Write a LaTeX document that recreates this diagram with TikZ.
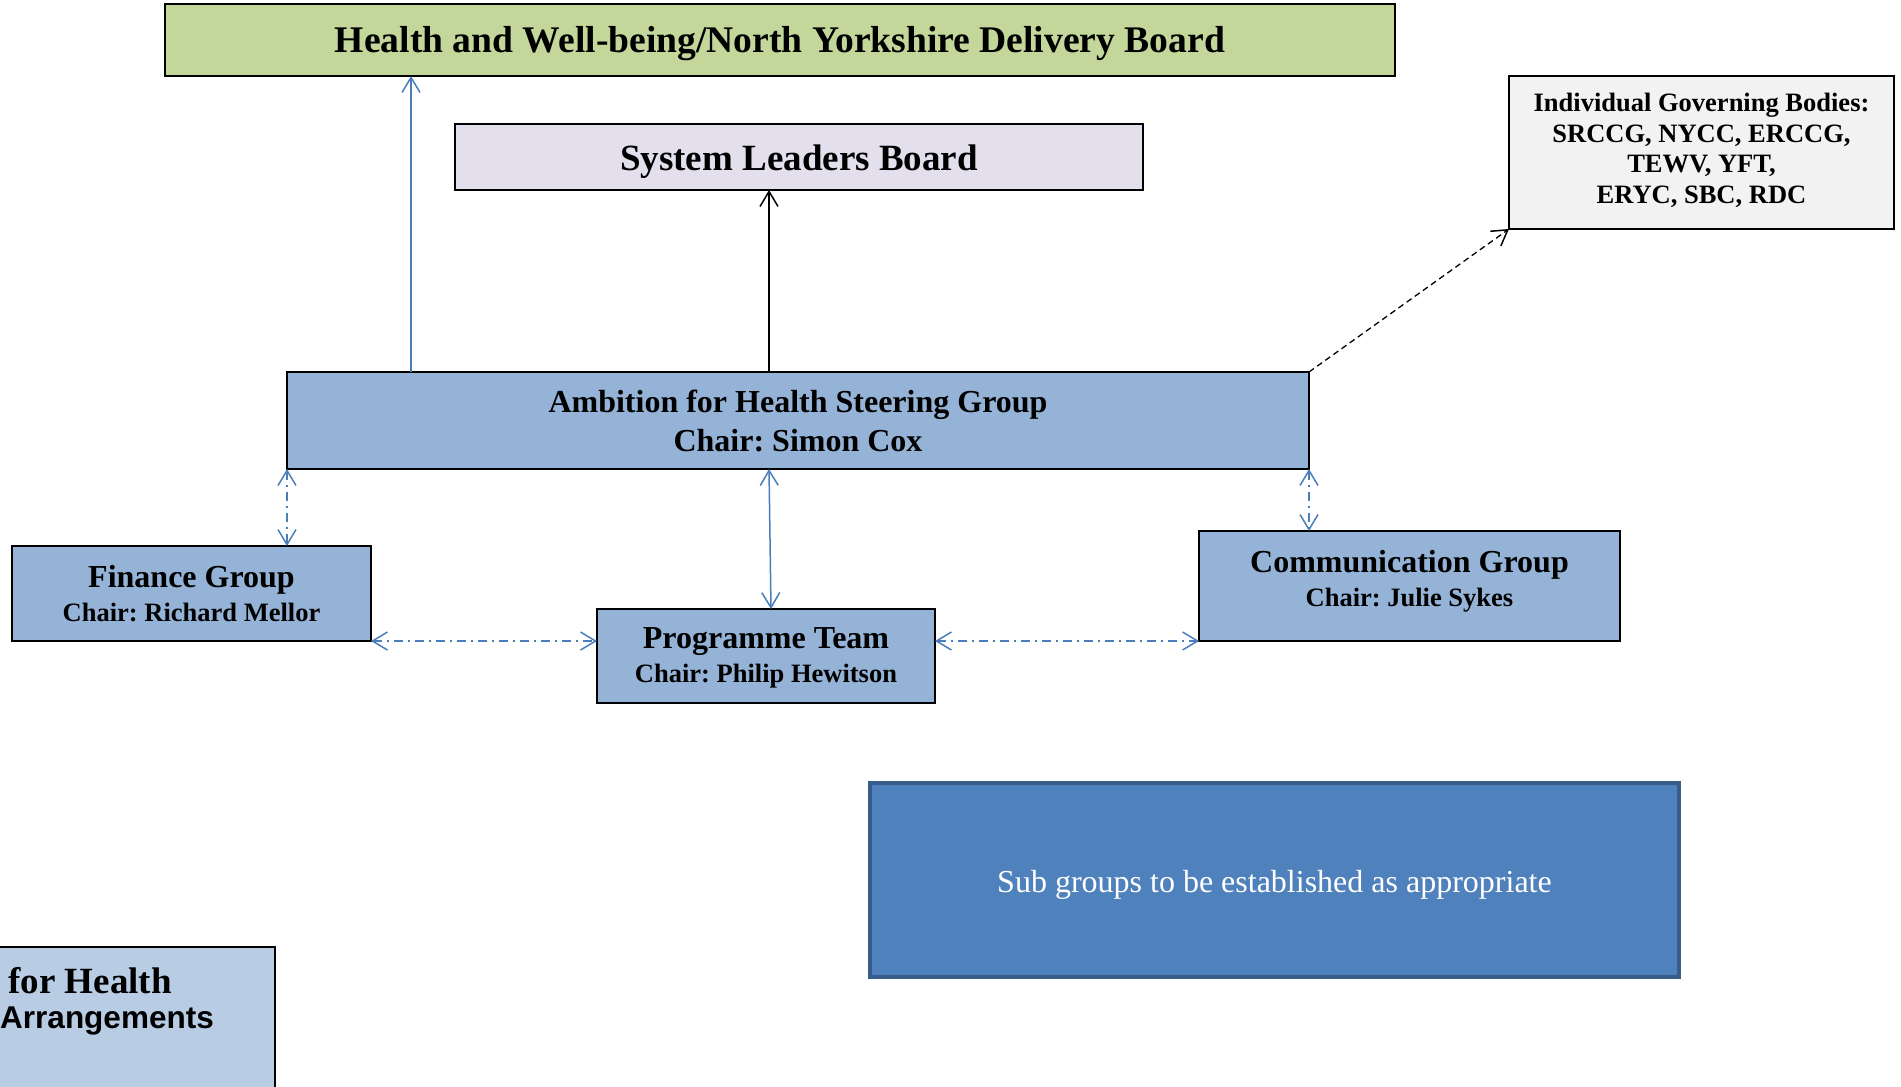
\documentclass[tikz,border=0pt]{standalone}
\usepackage{fontspec}
\setmainfont{Liberation Serif}
\newfontfamily\arialfont{Liberation Sans}
\usetikzlibrary{arrows.meta}
\frenchspacing

\definecolor{boardgreen}{HTML}{C4D79B}
\definecolor{leaderlilac}{HTML}{E4DFEC}
\definecolor{bodygrey}{HTML}{F2F2F2}
\definecolor{groupblue}{HTML}{95B3D7}
\definecolor{subblue}{HTML}{4F81BD}
\definecolor{subedge}{HTML}{385D8A}
\definecolor{keyblue}{HTML}{B8CCE4}
\definecolor{linkblue}{HTML}{4A7EBB}

\tikzset{
  box/.style={draw=black, line width=2pt, inner sep=0pt, outer sep=0pt, align=center},
  tiphead/.style={-{Straight Barb[length=15pt,width=18pt,line width=1.5pt]}},
  twohead/.style={{Straight Barb[length=15pt,width=18pt,line width=1.5pt]}-{Straight Barb[length=15pt,width=18pt,line width=1.5pt]}},
  bluelink/.style={draw=linkblue, line width=1.5pt},
  dashdot/.style={dash pattern=on 9pt off 5pt on 2pt off 5pt},
  big/.style={font=\bfseries\fontsize{37.6}{44}\selectfont},
  small/.style={font=\bfseries\fontsize{26.5}{30.5}\selectfont}
}

\begin{document}
\begin{tikzpicture}[x=1pt,y=-1pt]
\useasboundingbox (0,0) rectangle (1901,1087);
\clip (0,0) rectangle (1901,1087);

% boards at the top
\node[box, fill=boardgreen, minimum width=1230pt, minimum height=72pt] (green) at (780,40) {};
\node[big] (greentext) at (780,43.5) {Health and Well-being/North Yorkshire Delivery Board};
\node[box, fill=leaderlilac, minimum width=688pt, minimum height=66pt] (slb) at (799,157) {};
\node[big, font=\bfseries\fontsize{37}{44}\selectfont] (slbtext) at (799,162) {System Leaders Board};
\node[box, fill=bodygrey, minimum width=385pt, minimum height=153pt] (igb) at (1701.5,152.5) {};
\node[small, align=center] (igbtext) at (1701.5,150.5)
  {Individual Governing Bodies:\\SRCCG, NYCC, ERCCG,\\TEWV, YFT,\\ERYC, SBC, RDC};

% steering group and its groups
\node[box, fill=groupblue, minimum width=1022pt, minimum height=97pt] (amb) at (798,420.5) {};
\node[align=center, font=\bfseries\fontsize{32}{39}\selectfont] (ambtext) at (798,420.5)
  {Ambition for Health Steering Group\\Chair: Simon Cox};

\node[box, fill=groupblue, minimum width=359pt, minimum height=95pt] (fin) at (191.5,593.5) {};
\node[align=center, font=\bfseries\fontsize{26.5}{34}\selectfont] (fintext) at (191.5,593.5)
  {{\fontsize{32}{34}\selectfont Finance Group}\\Chair: Richard Mellor};

\node[box, fill=groupblue, minimum width=338pt, minimum height=94pt] (prog) at (766,656) {};
\node[align=center, font=\bfseries\fontsize{26.5}{34.5}\selectfont] (progtext) at (766,658)
  {{\fontsize{32}{34}\selectfont Programme Team}\\Chair: Philip Hewitson};

\node[box, fill=groupblue, minimum width=421pt, minimum height=110pt] (comm) at (1409.5,586) {};
\node[align=center, font=\bfseries\fontsize{26.5}{34.5}\selectfont] (commtext) at (1409.5,581)
  {{\fontsize{32}{34}\selectfont Communication Group}\\Chair: Julie Sykes};

% sub groups
\node[draw=subedge, line width=4pt, fill=subblue, inner sep=0pt, minimum width=809pt, minimum height=194pt] (sub) at (1274.5,880) {};
\node[text=white, font=\fontsize{32}{38}\selectfont] (subtext) at (1274.5,885)
  {Sub groups to be established as appropriate};

% key box in the lower left corner
\node[box, fill=keyblue, minimum width=300pt, minimum height=190pt] (key) at (125,1042) {};
\node[anchor=east, font=\bfseries\fontsize{37}{44}\selectfont, inner sep=0pt] (keyline1) at (172,981) {for Health};
\node[anchor=east, font=\arialfont\bfseries\fontsize{31.5}{36}\selectfont, inner sep=0pt] (keyline2) at (214,1021) {Arrangements};

% reporting lines
\draw[bluelink, tiphead] ([xshift=-387pt]amb.north) coordinate (upL) -- (upL |- green.south);
\draw[line width=1.5pt, tiphead] ([xshift=-29pt]amb.north) coordinate (upM) -- (upM |- slb.south);
\draw[line width=1.3pt, dash pattern=on 6pt off 4pt, tiphead] (amb.north east) -- (igb.south west);

% links between the groups
\draw[bluelink, dashdot, twohead] (amb.south west) -- (amb.south west |- fin.north);
\draw[bluelink, twohead] ([xshift=-29pt]amb.south) -- ([xshift=5pt]prog.north);
\draw[bluelink, dashdot, twohead] (amb.south east) -- (amb.south east |- comm.north);
\draw[bluelink, dashdot, twohead] (fin.south east) -- (fin.south east -| prog.west);
\draw[bluelink, dashdot, twohead] (prog.east |- comm.south) -- (comm.south west);
\end{tikzpicture}
\end{document}
